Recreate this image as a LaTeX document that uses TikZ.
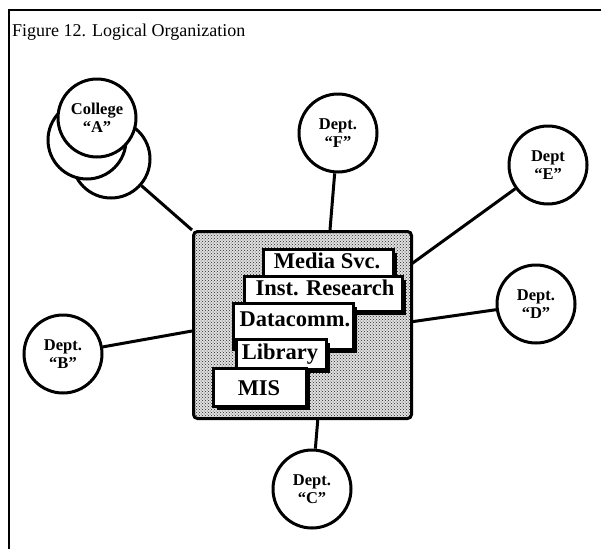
\documentclass[tikz,border=0pt]{standalone}
\usepackage{fontspec}
\setmainfont{Liberation Serif}
\usetikzlibrary{patterns,shadows}
\pgfdeclarelayer{background}
\pgfsetlayers{background,main}
\begin{document}
\begin{tikzpicture}[x=1pt,y=-1pt,
  dept/.style={circle, draw, fill=white, line width=3pt, minimum size=78pt, inner sep=0pt,
    align=center, font=\fontsize{16.5}{18}\selectfont\bfseries},
  link/.style={line width=3pt},
  unit/.style={rectangle, draw, fill=white, line width=2.5pt, inner sep=0pt, anchor=north west,
    drop shadow={shadow xshift=3.5pt, shadow yshift=-3.5pt, fill=black, opacity=1}},
  unitlabel/.style={font=\fontsize{22.5}{22}\selectfont\bfseries, inner sep=0pt, anchor=base},
  hubbox/.style={rectangle, draw, rounded corners=4pt, line width=3pt, anchor=north west,
    preaction={fill=black!12}, pattern=crosshatch dots, pattern color=black!85},
]
\useasboundingbox (0,0) rectangle (601,549);
% frame
\draw[line width=2.5pt] (8,10) -- (601,10);
\draw[line width=1.5pt] (9,10) -- (9,549);
\node[anchor=base west, inner sep=0pt, font=\fontsize{18}{18}\selectfont] (title) at (12,36) {Figure 12. Logical Organization};

% hub
\node[hubbox, minimum width=218, minimum height=187] (hub) at (192,230) {};
\coordinate (hF) at (330,230);
\coordinate (hE) at (410,265);
\coordinate (hD) at (410,322);
\coordinate (hB) at (192,331);
\coordinate (hC) at (318,417);

% units
\node[unit, minimum width=130, minimum height=33] (media) at (262,248) {};
\node[unitlabel] (mediaT) at (327,268) {Media Svc.};
\node[unit, minimum width=158, minimum height=35] (inst) at (243,275) {};
\node[unitlabel] (instT) at (325,295) {Inst. Research};
\node[unit, minimum width=120, minimum height=46] (data) at (232,302) {};
\node[unitlabel] (dataT) at (295,326) {Datacomm.};
\node[unit, minimum width=90, minimum height=30] (lib) at (235,338) {};
\node[unitlabel] (libT) at (280,359) {Library};
\node[unit, minimum width=93, minimum height=38] (mis) at (212,367) {};
\node[unitlabel] (misT) at (259,395) {MIS};

% departments
\node[dept] (cBack) at (111,159) {};
\node[dept] (cMid) at (87,140) {};
\node[dept] (college) at (97,118) {College\\“A”};
\node[dept] (deptF) at (338,133) {Dept.\\“F”};
\node[dept] (deptE) at (548,165) {Dept\\“E”};
\node[dept] (deptD) at (536,304) {Dept.\\“D”};
\node[dept] (deptB) at (63,354) {Dept.\\“B”};
\node[dept] (deptC) at (312,489) {Dept.\\“C”};

\begin{pgfonlayer}{background}
\draw[link] (cBack) -- (hub.north west);
\draw[link] (deptF) -- (hF);
\draw[link] (deptE) -- (hE);
\draw[link] (deptD) -- (hD);
\draw[link] (deptB) -- (hB);
\draw[link] (deptC) -- (hC);
\end{pgfonlayer}
\end{tikzpicture}
\end{document}
